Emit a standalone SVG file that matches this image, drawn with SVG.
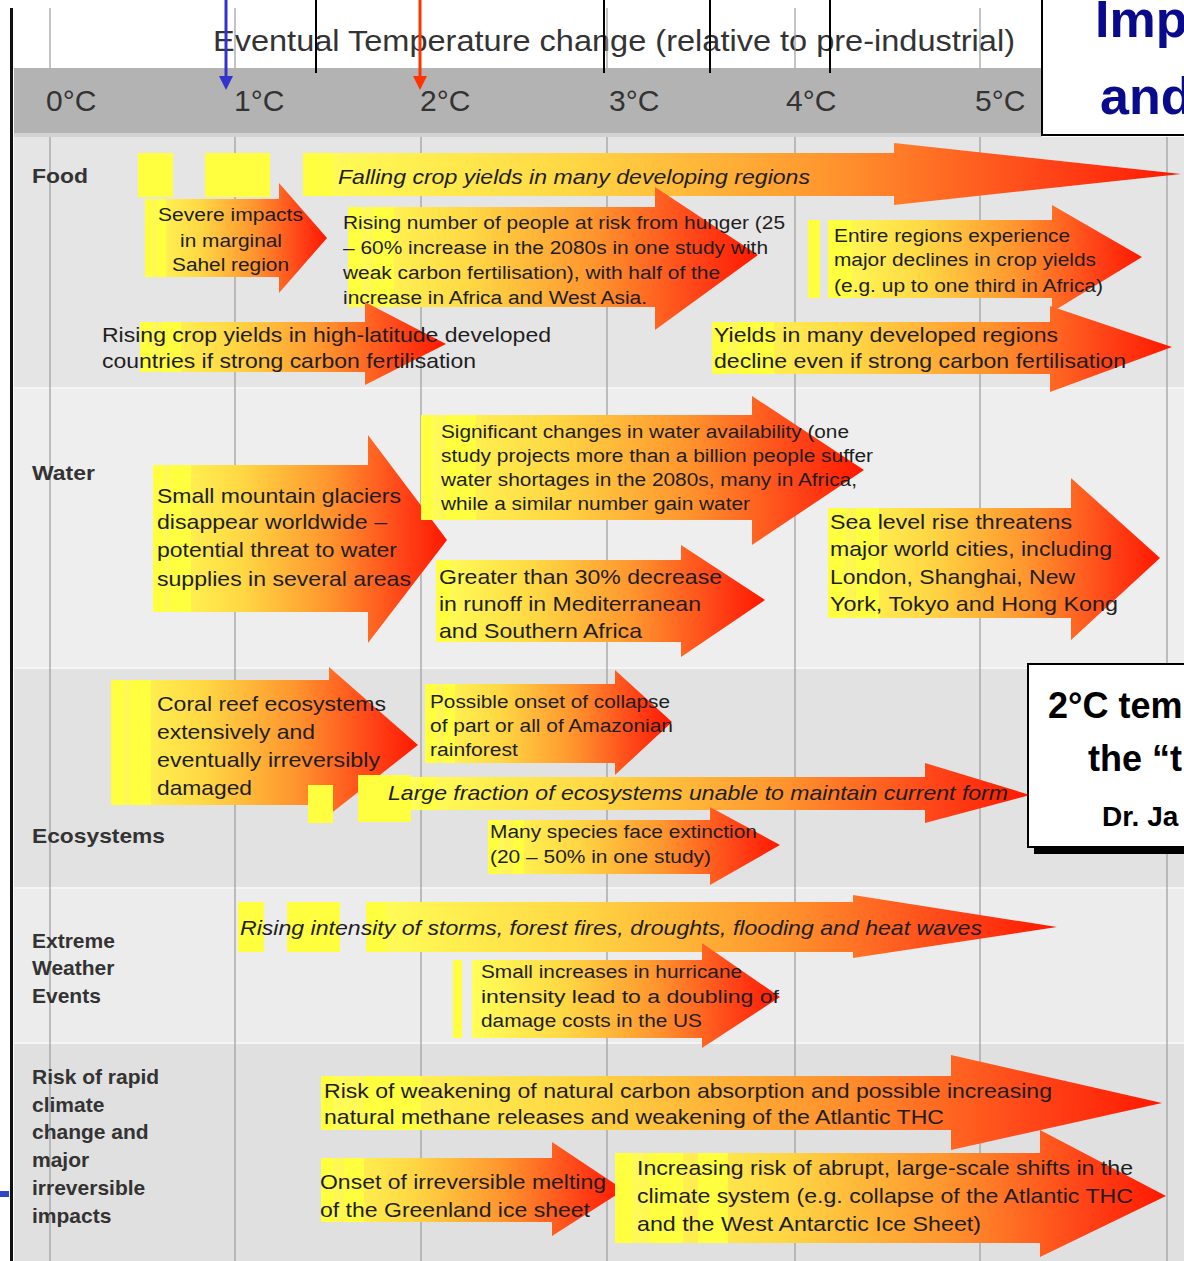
<svg xmlns="http://www.w3.org/2000/svg" width="1184" height="1261" viewBox="0 0 1184 1261">
<defs>
<linearGradient id="g" x1="0" y1="0" x2="1" y2="0">
<stop offset="0" stop-color="#ffff58"/>
<stop offset="0.3" stop-color="#ffd844"/>
<stop offset="0.6" stop-color="#ff952e"/>
<stop offset="0.85" stop-color="#ff4418"/>
<stop offset="1" stop-color="#ff1800"/>
</linearGradient>
<style>
text{font-family:"Liberation Sans",Arial,sans-serif}
.lbl{font-weight:bold;font-size:21px;fill:#333}
.ax{font-size:30px;fill:#333}
.t{font-size:21px;fill:#1e1e1e}
.s{font-size:18px;fill:#1e1e1e}
.i{font-style:italic}
.arr{fill:url(#g)}
.y{fill:#ffff40}
.grid{stroke:#9c9c9c;stroke-width:1.2}
</style>
</defs>
<rect width="1184" height="1261" fill="#fff"/>
<g id="rows">
<rect x="14" y="137" width="1170" height="251" fill="#e5e5e5"/>
<rect x="14" y="388" width="1170" height="280" fill="#eeeeee"/>
<rect x="14" y="668" width="1170" height="220" fill="#e2e2e2"/>
<rect x="14" y="888" width="1170" height="155" fill="#ececec"/>
<rect x="14" y="1043" width="1170" height="218" fill="#e0e0e0"/>
<g stroke="#f5f5f5" stroke-width="2"><line x1="14" y1="388" x2="1184" y2="388"/><line x1="14" y1="668" x2="1184" y2="668"/><line x1="14" y1="888" x2="1184" y2="888"/><line x1="14" y1="1043" x2="1184" y2="1043"/></g>
</g>
<g id="header">
<rect x="14" y="68" width="1028" height="69" fill="#b3b3b3"/>
<rect x="14" y="133" width="1028" height="4" fill="#d2d2d2"/>
<text class="ax" x="213" y="51" textLength="802" lengthAdjust="spacingAndGlyphs">Eventual Temperature change (relative to pre-industrial)</text>
<text class="ax" x="46" y="111">0°C</text>
<text class="ax" x="234" y="111">1°C</text>
<text class="ax" x="420" y="111">2°C</text>
<text class="ax" x="609" y="111">3°C</text>
<text class="ax" x="786" y="111">4°C</text>
<text class="ax" x="975" y="111">5°C</text>
</g>
<g id="grid" class="grid">
<line x1="50" y1="8" x2="50" y2="68"/><line x1="235" y1="8" x2="235" y2="68"/><line x1="607" y1="8" x2="607" y2="68"/><line x1="795" y1="8" x2="795" y2="68"/><line x1="980" y1="8" x2="980" y2="68"/>
<line x1="50" y1="137" x2="50" y2="1261"/><line x1="235" y1="137" x2="235" y2="1261"/><line x1="421" y1="137" x2="421" y2="1261"/><line x1="607" y1="137" x2="607" y2="1261"/><line x1="795" y1="137" x2="795" y2="1261"/><line x1="980" y1="137" x2="980" y2="1261"/><line x1="1167" y1="137" x2="1167" y2="1261"/>
</g>
<rect x="10" y="8" width="3" height="1253" fill="#111"/>
<rect x="0" y="1191" width="9" height="6" fill="#3344cc"/>
<g id="markers">
<g stroke="#000" stroke-width="2"><line x1="316" y1="0" x2="316" y2="73"/><line x1="604" y1="0" x2="604" y2="73"/><line x1="710" y1="0" x2="710" y2="73"/><line x1="830" y1="0" x2="830" y2="73"/></g>
<line x1="226" y1="0" x2="226" y2="77" stroke="#3333cc" stroke-width="3"/>
<polygon points="219,76 233,76 226,90" fill="#3333cc"/>
<line x1="420" y1="0" x2="420" y2="77" stroke="#ff3300" stroke-width="3"/>
<polygon points="413,76 427,76 420,90" fill="#ff3300"/>
</g>
<g id="title-box">
<rect x="1042" y="-2" width="150" height="137" fill="#fff" stroke="#000" stroke-width="2"/>
<text x="1095" y="37" font-size="52" font-weight="bold" fill="#0a0a8c">Imp</text>
<text x="1100" y="114" font-size="52" font-weight="bold" fill="#0a0a8c">and</text>
</g>
<g id="row-labels">
<text class="lbl" x="32" y="183" textLength="56" lengthAdjust="spacingAndGlyphs">Food</text>
<text class="lbl" x="32" y="480" textLength="63" lengthAdjust="spacingAndGlyphs">Water</text>
<text class="lbl" x="32" y="843" textLength="133" lengthAdjust="spacingAndGlyphs">Ecosystems</text>
<text class="lbl" x="32" y="948">Extreme</text>
<text class="lbl" x="32" y="975">Weather</text>
<text class="lbl" x="32" y="1003">Events</text>
<text class="lbl" x="32" y="1084">Risk of rapid</text>
<text class="lbl" x="32" y="1112">climate</text>
<text class="lbl" x="32" y="1139">change and</text>
<text class="lbl" x="32" y="1167">major</text>
<text class="lbl" x="32" y="1195">irreversible</text>
<text class="lbl" x="32" y="1223">impacts</text>
</g>
<g id="connectors">
<!-- Food -->
<g id="a-falling">
<path class="arr" d="M303 153H894V143L1181 174L894 205V196H303Z"/>
<rect class="y" x="138" y="153" width="35" height="44"/><rect class="y" x="205" y="153" width="65" height="44"/><rect class="y" x="303" y="153" width="30" height="43"/>
<text class="t i" x="338" y="184" textLength="472" lengthAdjust="spacingAndGlyphs">Falling crop yields in many developing regions</text>
</g>
<g id="a-sahel">
<path class="arr" d="M145 199H279V183L327 238L279 293V277H145Z"/>
<rect class="y" x="145" y="199" width="7" height="78"/><rect class="y" x="157" y="199" width="9" height="78"/>
<text class="s" x="158" y="221" textLength="145" lengthAdjust="spacingAndGlyphs">Severe impacts</text>
<text class="s" x="180" y="247" textLength="102" lengthAdjust="spacingAndGlyphs">in marginal</text>
<text class="s" x="172" y="271" textLength="117" lengthAdjust="spacingAndGlyphs">Sahel region</text>
</g>
<g id="a-hunger">
<path class="arr" d="M348 207H655V187L758 255L655 330V307H348Z"/>
<rect class="y" x="348" y="207" width="13" height="100"/><rect class="y" x="373" y="207" width="21" height="100"/>
<text class="s" x="343" y="229" textLength="442" lengthAdjust="spacingAndGlyphs">Rising number of people at risk from hunger (25</text>
<text class="s" x="343" y="254" textLength="425" lengthAdjust="spacingAndGlyphs">– 60% increase in the 2080s in one study with</text>
<text class="s" x="343" y="279" textLength="377" lengthAdjust="spacingAndGlyphs">weak carbon fertilisation), with half of the</text>
<text class="s" x="343" y="304" textLength="304" lengthAdjust="spacingAndGlyphs">increase in Africa and West Asia.</text>
</g>
<g id="a-entire">
<path class="arr" d="M828 220H1052V205L1142 257L1052 312V298H828Z"/>
<rect class="y" x="808" y="220" width="12" height="78"/><rect class="y" x="828" y="220" width="24" height="78"/>
<text class="s" x="834" y="242" textLength="236" lengthAdjust="spacingAndGlyphs">Entire regions experience</text>
<text class="s" x="834" y="266" textLength="262" lengthAdjust="spacingAndGlyphs">major declines in crop yields</text>
<text class="s" x="834" y="292" textLength="269" lengthAdjust="spacingAndGlyphs">(e.g. up to one third in Africa)</text>
</g>
<g id="a-rising-crop">
<path class="arr" d="M140 322H365V302L446 344L365 385V372H140Z"/>
<rect class="y" x="140" y="322" width="11" height="50"/><rect class="y" x="161" y="322" width="20" height="50"/>
<text class="t" x="102" y="342" textLength="449" lengthAdjust="spacingAndGlyphs">Rising crop yields in high-latitude developed</text>
<text class="t" x="102" y="368" textLength="374" lengthAdjust="spacingAndGlyphs">countries if strong carbon fertilisation</text>
</g>
<g id="a-yields">
<path class="arr" d="M712 322H1050V306L1172 347L1050 392V374H712Z"/>
<rect class="y" x="712" y="322" width="16" height="52"/><rect class="y" x="738" y="322" width="36" height="52"/>
<text class="t" x="714" y="342" textLength="344" lengthAdjust="spacingAndGlyphs">Yields in many developed regions</text>
<text class="t" x="714" y="368" textLength="412" lengthAdjust="spacingAndGlyphs">decline even if strong carbon fertilisation</text>
</g>
<!-- Water -->
<g id="a-glaciers">
<path class="arr" d="M153 465H368V435L447 540L368 643V612H153Z"/>
<rect class="y" x="153" y="465" width="11" height="147"/><rect class="y" x="170" y="465" width="21" height="147"/>
<text class="t" x="157" y="503" textLength="244" lengthAdjust="spacingAndGlyphs">Small mountain glaciers</text>
<text class="t" x="157" y="529" textLength="230" lengthAdjust="spacingAndGlyphs">disappear worldwide –</text>
<text class="t" x="157" y="557" textLength="240" lengthAdjust="spacingAndGlyphs">potential threat to water</text>
<text class="t" x="157" y="586" textLength="254" lengthAdjust="spacingAndGlyphs">supplies in several areas</text>
</g>
<g id="a-water">
<path class="arr" d="M421 415H752V396L864 470L752 545V520H421Z"/>
<rect class="y" x="421" y="415" width="11" height="105"/><rect class="y" x="446" y="415" width="30" height="105"/>
<text class="s" x="441" y="438" textLength="408" lengthAdjust="spacingAndGlyphs">Significant changes in water availability (one</text>
<text class="s" x="441" y="462" textLength="432" lengthAdjust="spacingAndGlyphs">study projects more than a billion people suffer</text>
<text class="s" x="441" y="486" textLength="416" lengthAdjust="spacingAndGlyphs">water shortages in the 2080s, many in Africa,</text>
<text class="s" x="441" y="510" textLength="309" lengthAdjust="spacingAndGlyphs">while a similar number gain water</text>
</g>
<g id="a-runoff">
<path class="arr" d="M436 560H681V545L765 600L681 657V642H436Z"/>
<rect class="y" x="436" y="560" width="14" height="82"/>
<text class="t" x="439" y="584" textLength="283" lengthAdjust="spacingAndGlyphs">Greater than 30% decrease</text>
<text class="t" x="439" y="611" textLength="262" lengthAdjust="spacingAndGlyphs">in runoff in Mediterranean</text>
<text class="t" x="439" y="638" textLength="203" lengthAdjust="spacingAndGlyphs">and Southern Africa</text>
</g>
<g id="a-sea">
<path class="arr" d="M828 508H1071V478L1160 558L1071 640V618H828Z"/>
<rect class="y" x="828" y="508" width="17" height="110"/><rect class="y" x="856" y="508" width="23" height="110"/>
<text class="t" x="830" y="529" textLength="242" lengthAdjust="spacingAndGlyphs">Sea level rise threatens</text>
<text class="t" x="830" y="556" textLength="282" lengthAdjust="spacingAndGlyphs">major world cities, including</text>
<text class="t" x="830" y="584" textLength="245" lengthAdjust="spacingAndGlyphs">London, Shanghai, New</text>
<text class="t" x="830" y="611" textLength="288" lengthAdjust="spacingAndGlyphs">York, Tokyo and Hong Kong</text>
</g>
<!-- Ecosystems -->
<g id="a-coral">
<path class="arr" d="M111 680H329V667L418 745L329 815V805H111Z"/>
<rect class="y" x="111" y="680" width="11" height="125"/><rect class="y" x="130" y="680" width="21" height="125"/>
<text class="t" x="157" y="711" textLength="229" lengthAdjust="spacingAndGlyphs">Coral reef ecosystems</text>
<text class="t" x="157" y="739" textLength="158" lengthAdjust="spacingAndGlyphs">extensively and</text>
<text class="t" x="157" y="767" textLength="223" lengthAdjust="spacingAndGlyphs">eventually irreversibly</text>
<text class="t" x="157" y="795" textLength="95" lengthAdjust="spacingAndGlyphs">damaged</text>
</g>
<g id="a-amazon">
<path class="arr" d="M425 684H615V670L672 722L615 775V763H425Z"/>
<rect class="y" x="425" y="684" width="11" height="79"/><rect class="y" x="444" y="684" width="11" height="79"/>
<text class="s" x="430" y="708" textLength="240" lengthAdjust="spacingAndGlyphs">Possible onset of collapse</text>
<text class="s" x="430" y="732" textLength="243" lengthAdjust="spacingAndGlyphs">of part or all of Amazonian</text>
<text class="s" x="430" y="756" textLength="88" lengthAdjust="spacingAndGlyphs">rainforest</text>
</g>
<g id="a-fraction">
<path class="arr" d="M410 777H925V763L1030 795L925 823V810H410Z"/>
<rect class="y" x="308" y="785" width="25" height="38"/><rect class="y" x="358" y="775" width="53" height="47"/><rect class="y" x="420" y="777" width="16" height="33"/>
<text class="t i" x="388" y="800" textLength="620" lengthAdjust="spacingAndGlyphs">Large fraction of ecosystems unable to maintain current form</text>
</g>
<g id="a-species">
<path class="arr" d="M488 820H710V807L780 845L710 885V874H488Z"/>
<rect class="y" x="488" y="820" width="10" height="54"/><rect class="y" x="513" y="820" width="11" height="54"/>
<text class="s" x="490" y="838" textLength="267" lengthAdjust="spacingAndGlyphs">Many species face extinction</text>
<text class="s" x="490" y="863" textLength="221" lengthAdjust="spacingAndGlyphs">(20 – 50% in one study)</text>
</g>
<!-- Extreme weather -->
<g id="a-storms">
<path class="arr" d="M366 902H853V895L1057 927L853 958V952H366Z"/>
<rect class="y" x="238" y="902" width="26" height="50"/><rect class="y" x="287" y="902" width="53" height="50"/><rect class="y" x="366" y="902" width="20" height="50"/>
<text class="t i" x="240" y="935" textLength="742" lengthAdjust="spacingAndGlyphs">Rising intensity of storms, forest fires, droughts, flooding and heat waves</text>
</g>
<g id="a-hurricane">
<path class="arr" d="M472 960H702V943L780 997L702 1048V1038H472Z"/>
<rect class="y" x="453" y="960" width="9" height="78"/>
<text class="s" x="481" y="978" textLength="261" lengthAdjust="spacingAndGlyphs">Small increases in hurricane</text>
<text class="s" x="481" y="1003" textLength="298" lengthAdjust="spacingAndGlyphs">intensity lead to a doubling of</text>
<text class="s" x="481" y="1027" textLength="221" lengthAdjust="spacingAndGlyphs">damage costs in the US</text>
</g>
<!-- Risk -->
<g id="a-carbon">
<path class="arr" d="M321 1076H951V1055L1162 1103L951 1150V1130H321Z"/>
<rect class="y" x="321" y="1076" width="12" height="54"/><rect class="y" x="364" y="1076" width="57" height="54"/>
<text class="t" x="324" y="1098" textLength="728" lengthAdjust="spacingAndGlyphs">Risk of weakening of natural carbon absorption and possible increasing</text>
<text class="t" x="324" y="1124" textLength="620" lengthAdjust="spacingAndGlyphs">natural methane releases and weakening of the Atlantic THC</text>
</g>
<g id="a-greenland">
<path class="arr" d="M321 1158H552V1142L624 1190L552 1236V1222H321Z"/>
<rect class="y" x="321" y="1158" width="12" height="64"/><rect class="y" x="344" y="1158" width="20" height="64"/>
<text class="t" x="320" y="1189" textLength="286" lengthAdjust="spacingAndGlyphs">Onset of irreversible melting</text>
<text class="t" x="320" y="1217" textLength="270" lengthAdjust="spacingAndGlyphs">of the Greenland ice sheet</text>
</g>
<g id="a-abrupt">
<path class="arr" d="M615 1153H1040V1130L1166 1196L1040 1257V1243H615Z"/>
<rect class="y" x="615" y="1153" width="17" height="90"/><rect class="y" x="649" y="1153" width="34" height="90"/><rect class="y" x="698" y="1153" width="30" height="90"/>
<text class="t" x="637" y="1175" textLength="496" lengthAdjust="spacingAndGlyphs">Increasing risk of abrupt, large-scale shifts in the</text>
<text class="t" x="637" y="1203" textLength="496" lengthAdjust="spacingAndGlyphs">climate system (e.g. collapse of the Atlantic THC</text>
<text class="t" x="637" y="1231" textLength="344" lengthAdjust="spacingAndGlyphs">and the West Antarctic Ice Sheet)</text>
</g>
</g>
<g id="quote-box">
<rect x="1034" y="670" width="160" height="184" fill="#000"/>
<rect x="1028" y="664" width="160" height="183" fill="#fff" stroke="#000" stroke-width="2"/>
<text x="1048" y="718" font-size="36" font-weight="bold" fill="#000">2°C tem</text>
<text x="1088" y="771" font-size="36" font-weight="bold" fill="#000">the “t</text>
<text x="1102" y="826" font-size="28" font-weight="bold" fill="#000">Dr. Ja</text>
</g>
</svg>
